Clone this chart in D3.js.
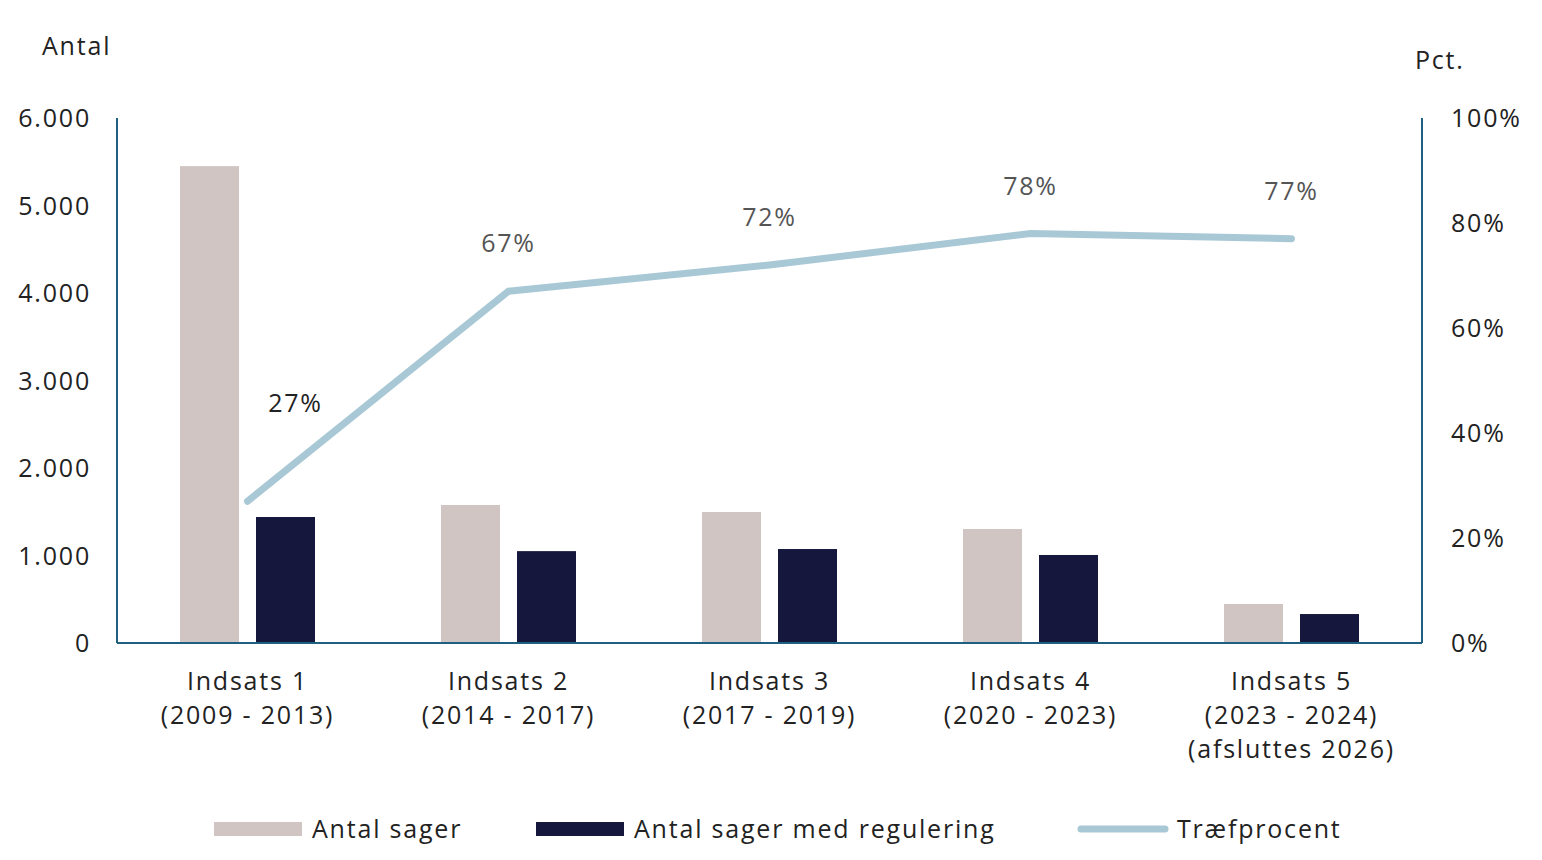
<!DOCTYPE html>
<html><head><meta charset="utf-8">
<script src="https://cdn.jsdelivr.net/npm/d3@7"></script>
<style>body{margin:0;background:#fff}text{font-family:"Open Sans",Lato,sans-serif;fill:#222;letter-spacing:1.8px}</style>
</head><body><svg id="c" width="1542" height="860"></svg>
<script>
const categories=[["Indsats 1","(2009 - 2013)"],["Indsats 2","(2014 - 2017)"],["Indsats 3","(2017 -  2019)"],["Indsats 4","(2020 - 2023)"],["Indsats 5","(2023 -  2024)","(afsluttes 2026)"]];
const antalSager=[5450,1577,1497,1303,446];
const medRegulering=[1440,1050,1074,1006,331];
const traefprocent=[27,67,72,78,77];
const leftTicks=[0,1000,2000,3000,4000,5000,6000];
const rightTicks=[0,20,40,60,80,100];
const svg=d3.select("#c");
const L=117,R=1422,T=118,B=643,axisC="#1f5f80",fs=25;
const x=d3.scaleBand().domain(d3.range(5)).range([L,R]);
const y=d3.scaleLinear().domain([0,6000]).range([B,T]);
const y2=d3.scaleLinear().domain([0,100]).range([B,T]);
const fmt=d=>d3.format(",")(d).replace(/,/g,".");
const bw=59,gap=17;
const cx=i=>x(i)+x.bandwidth()/2;
svg.selectAll(".a").data(antalSager).join("rect").attr("x",(d,i)=>cx(i)-gap/2-bw).attr("width",bw).attr("y",d=>y(d)).attr("height",d=>B-y(d)).attr("fill","#d0c5c3");
svg.selectAll(".b").data(medRegulering).join("rect").attr("x",(d,i)=>cx(i)+gap/2).attr("width",bw).attr("y",d=>y(d)).attr("height",d=>B-y(d)).attr("fill","#16173d");
svg.append("path").datum(traefprocent).attr("d",d3.line().x((d,i)=>cx(i)).y(d=>y2(d))).attr("fill","none").attr("stroke","#a9c8d5").attr("stroke-width",7).attr("stroke-linecap","round");
svg.selectAll(".pl").data(traefprocent).join("text").attr("x",(d,i)=>i==0?cx(i)+48:cx(i)).attr("y",(d,i)=>i==0?y2(d)-89:y2(d)-39).attr("text-anchor","middle").attr("font-size",fs).style("fill",(d,i)=>i==0?"#222":"#555").text(d=>d+"%");
svg.append("line").attr("x1",L).attr("x2",L).attr("y1",T).attr("y2",B).attr("stroke",axisC).attr("stroke-width",2);
svg.append("line").attr("x1",R).attr("x2",R).attr("y1",T).attr("y2",B).attr("stroke",axisC).attr("stroke-width",2);
svg.append("line").attr("x1",L).attr("x2",R).attr("y1",B).attr("y2",B).attr("stroke",axisC).attr("stroke-width",2);
svg.selectAll(".lt").data(leftTicks).join("text").attr("x",91).attr("y",d=>y(d)+9).attr("text-anchor","end").attr("font-size",fs).text(fmt);
svg.selectAll(".rt").data(rightTicks).join("text").attr("x",1451).attr("y",d=>y2(d)+9).attr("font-size",fs).text(d=>d+"%");
svg.append("text").attr("x",42).attr("y",55).attr("font-size",fs).text("Antal");
svg.append("text").attr("x",1415).attr("y",69).attr("font-size",fs).text("Pct.");
categories.forEach((c,i)=>{c.forEach((t,j)=>svg.append("text").attr("x",cx(i)).attr("y",690+j*34).attr("text-anchor","middle").attr("font-size",fs).text(t));});
const lg=svg.append("g");
lg.append("rect").attr("x",214).attr("y",822).attr("width",88).attr("height",14).attr("fill","#d0c5c3");
lg.append("text").attr("x",312).attr("y",838).attr("font-size",fs).text("Antal sager");
lg.append("rect").attr("x",536).attr("y",822).attr("width",88).attr("height",14).attr("fill","#16173d");
lg.append("text").attr("x",634).attr("y",838).attr("font-size",fs).text("Antal sager med regulering");
lg.append("line").attr("x1",1081).attr("x2",1165).attr("y1",829).attr("y2",829).attr("stroke","#a9c8d5").attr("stroke-width",7).attr("stroke-linecap","round");
lg.append("text").attr("x",1177).attr("y",838).attr("font-size",fs).text("Træfprocent");
</script></body></html>
